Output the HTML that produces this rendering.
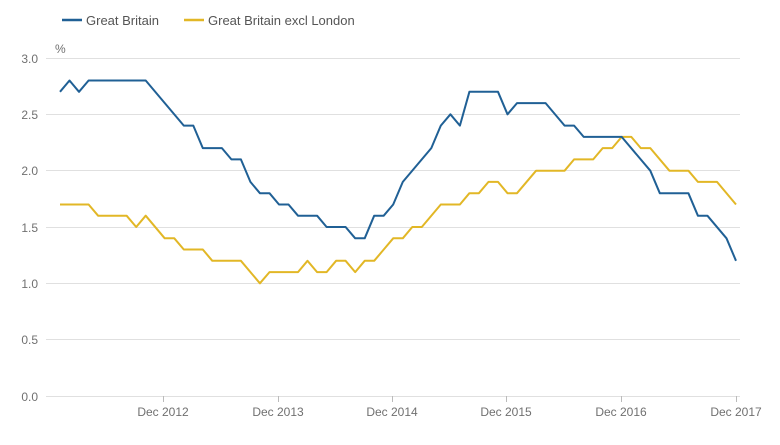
<!DOCTYPE html>
<html><head><meta charset="utf-8"><style>
body{margin:0;background:#fff;}
svg{display:block;font-family:"Liberation Sans","DejaVu Sans",sans-serif;}
</style></head><body>
<svg width="780" height="445" xmlns="http://www.w3.org/2000/svg">
<g stroke="#e0e0e0" stroke-width="1">
<line x1="46" x2="740" y1="58.5" y2="58.5"/><line x1="46" x2="740" y1="114.5" y2="114.5"/>
<line x1="46" x2="740" y1="170.5" y2="170.5"/><line x1="46" x2="740" y1="227.5" y2="227.5"/>
<line x1="46" x2="740" y1="283.5" y2="283.5"/><line x1="46" x2="740" y1="339.5" y2="339.5"/>
<line x1="46" x2="740" y1="396.5" y2="396.5"/>
</g>
<g stroke="#bbb"><line x1="163.5" x2="163.5" y1="396" y2="402"/><line x1="278.5" x2="278.5" y1="396" y2="402"/><line x1="392.5" x2="392.5" y1="396" y2="402"/><line x1="506.5" x2="506.5" y1="396" y2="402"/><line x1="621.5" x2="621.5" y1="396" y2="402"/><line x1="736.5" x2="736.5" y1="396" y2="402"/></g>
<g font-size="12" fill="#707070" text-anchor="end">
<text x="38" y="63">3.0</text><text x="38" y="119">2.5</text><text x="38" y="175">2.0</text><text x="38" y="232">1.5</text><text x="38" y="288">1.0</text><text x="38" y="344">0.5</text><text x="38" y="401">0.0</text>
</g>
<text x="55" y="53" font-size="12" fill="#707070">%</text>
<g font-size="12" fill="#707070" text-anchor="middle">
<text x="163" y="416">Dec 2012</text><text x="278" y="416">Dec 2013</text><text x="392" y="416">Dec 2014</text><text x="506" y="416">Dec 2015</text><text x="621" y="416">Dec 2016</text><text x="736" y="416">Dec 2017</text>
</g>
<line x1="62" x2="82" y1="20" y2="20" stroke="#206095" stroke-width="2.5"/>
<text x="86" y="25" font-size="13" fill="#555">Great Britain</text>
<line x1="184" x2="204" y1="20" y2="20" stroke="#e2b726" stroke-width="2.5"/>
<text x="208" y="25" font-size="13" fill="#555">Great Britain excl London</text>
<polyline fill="none" stroke="#e2b726" stroke-width="2" stroke-linejoin="round" points="60,204.5 88.6,204.5 98.1,215.7 126.6,215.7 136.2,227 145.7,215.7 164.7,238.3 174.3,238.3 183.8,249.5 202.8,249.5 212.3,260.8 240.9,260.8 259.9,283.3 269.5,272.1 298,272.1 307.5,260.8 317.1,272.1 326.6,272.1 336.1,260.8 345.6,260.8 355.2,272.1 364.7,260.8 374.2,260.8 393.2,238.3 402.8,238.3 412.3,227 421.8,227 440.8,204.5 459.9,204.5 469.4,193.2 478.9,193.2 488.5,181.9 498,181.9 507.5,193.2 517,193.2 536.1,170.7 564.6,170.7 574.1,159.4 593.2,159.4 602.7,148.1 612.2,148.1 621.7,136.9 631.3,136.9 640.8,148.1 650.3,148.1 669.4,170.7 688.4,170.7 697.9,181.9 717,181.9 736,204.5"/>
<polyline fill="none" stroke="#206095" stroke-width="2" stroke-linejoin="round" points="60,91.8 69.5,80.5 79,91.8 88.6,80.5 145.7,80.5 183.8,125.6 193.3,125.6 202.8,148.1 221.9,148.1 231.4,159.4 240.9,159.4 250.4,181.9 259.9,193.2 269.5,193.2 279,204.5 288.5,204.5 298,215.7 317.1,215.7 326.6,227 345.6,227 355.2,238.3 364.7,238.3 374.2,215.7 383.7,215.7 393.2,204.5 402.8,181.9 431.3,148.1 440.8,125.6 450.4,114.3 459.9,125.6 469.4,91.8 498,91.8 507.5,114.3 517,103.1 545.6,103.1 564.6,125.6 574.1,125.6 583.7,136.9 621.7,136.9 650.3,170.7 659.8,193.2 688.4,193.2 697.9,215.7 707.4,215.7 726.5,238.3 736,260.8"/>
</svg>
</body></html>
